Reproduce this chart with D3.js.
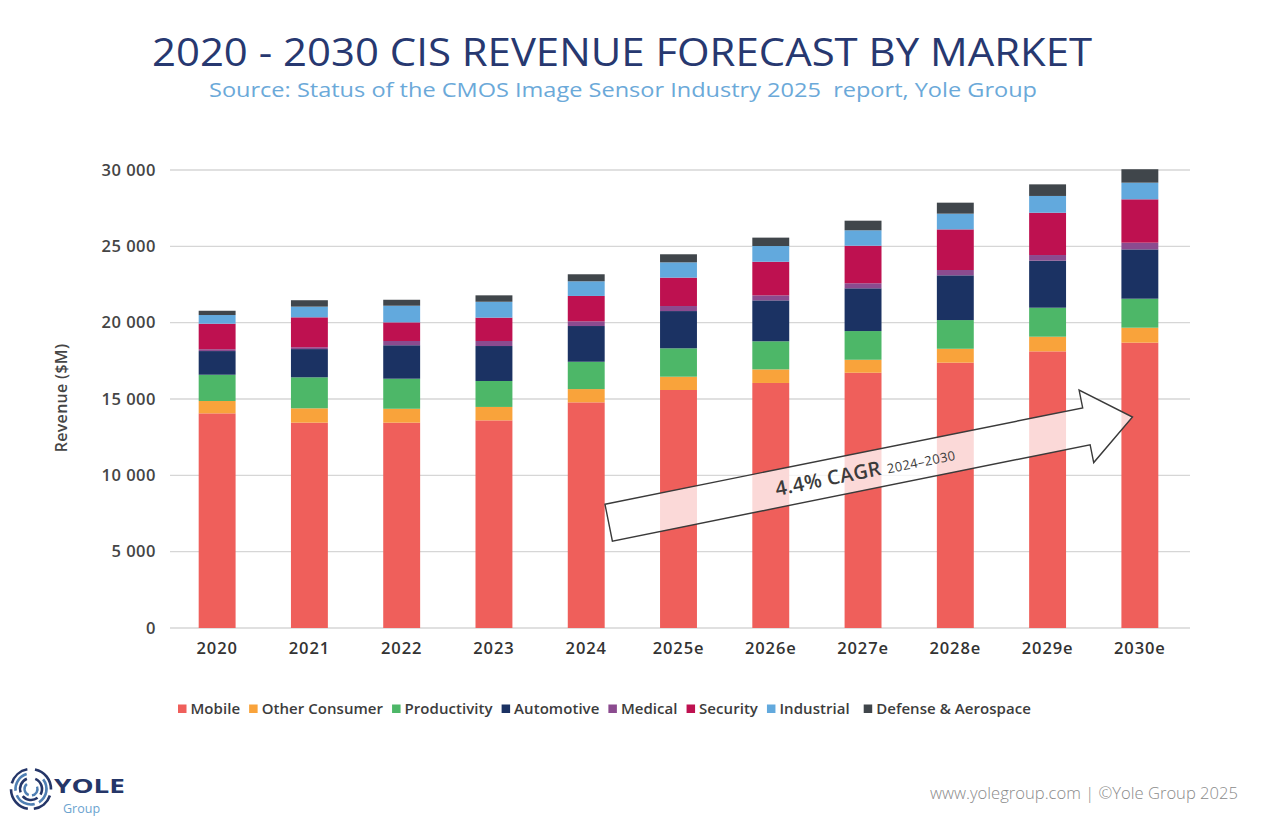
<!DOCTYPE html>
<html>
<head>
<meta charset="utf-8">
<script src="https://cdn.jsdelivr.net/npm/d3@7"></script>
<style>
  body { margin: 0; background: #fff; }
  svg { display: block; font-family: "Open Sans", sans-serif; }
</style>
</head>
<body>
<svg id="svg"></svg>
<script>
// values ($M)
const years = ["2020", "2021", "2022", "2023", "2024", "2025e", "2026e", "2027e", "2028e", "2029e", "2030e"];
const mobile        = [14060, 13450, 13450, 13600, 14780, 15590, 16050, 16720, 17380, 18120, 18690];
const otherConsumer = [810, 940, 910, 880, 870, 870, 890, 850, 910, 960, 980];
const productivity  = [1720, 2030, 1970, 1700, 1790, 1860, 1840, 1880, 1880, 1900, 1900];
const automotive    = [1550, 1850, 2190, 2290, 2340, 2440, 2680, 2800, 2930, 3080, 3230];
const medical       = [120, 120, 280, 330, 310, 330, 330, 330, 350, 370, 440];
const security      = [1670, 1960, 1220, 1530, 1660, 1860, 2200, 2460, 2660, 2770, 2840];
const industrial    = [570, 700, 1090, 1040, 960, 1000, 1030, 1010, 1030, 1100, 1090];
const defense       = [280, 420, 390, 420, 460, 530, 550, 630, 720, 760, 880];

const seriesNames = ["Mobile", "Other Consumer", "Productivity", "Automotive", "Medical", "Security", "Industrial", "Defense & Aerospace"];
const seriesValues = [mobile, otherConsumer, productivity, automotive, medical, security, industrial, defense];
const seriesColors = ["#ef5f5b", "#f9a33b", "#4db768", "#1b3263", "#8b4b8f", "#be1150", "#62a9dd", "#40464b"];
const yTicks = [0, 5000, 10000, 15000, 20000, 25000, 30000];

const title = "2020 - 2030 CIS REVENUE FORECAST BY MARKET";
const subtitle = "Source: Status of the CMOS Image Sensor Industry 2025  report, Yole Group";
const footer = "www.yolegroup.com | \u00A9Yole Group 2025";

const table = years.map((y, i) => {
  const row = { year: y };
  seriesNames.forEach((s, j) => row[s] = seriesValues[j][i]);
  return row;
});

const layout = { width: 1268, height: 834, top: 170, bottom: 628, left: 171, right: 1186, gridLeft: 170, gridRight: 1190 };

const svg = d3.select("#svg").attr("width", layout.width).attr("height", layout.height);

const x = d3.scaleBand().domain(years).range([layout.left, layout.right]).paddingInner(0.6).paddingOuter(0.3);
const y = d3.scaleLinear().domain([0, 30000]).range([layout.bottom, layout.top]);
const color = d3.scaleOrdinal().domain(seriesNames).range(seriesColors);

const fmt = d3.formatLocale({ decimal: ".", thousands: " ", grouping: [3], currency: ["", ""] }).format(",d");

// title
svg.append("text").attr("x", 622).attr("y", 66).attr("text-anchor", "middle")
  .attr("font-size", 39).attr("font-weight", 500).attr("fill", "#273870")
  .attr("textLength", 940).attr("lengthAdjust", "spacingAndGlyphs").text(title);
svg.append("text").attr("x", 623).attr("y", 97).attr("text-anchor", "middle")
  .attr("font-size", 20).attr("fill", "#6ba9d9").style("white-space", "pre")
  .attr("textLength", 828).attr("lengthAdjust", "spacingAndGlyphs").text(subtitle);

// grid
svg.append("g").selectAll("line").data(yTicks).join("line")
  .attr("x1", layout.gridLeft).attr("x2", layout.gridRight)
  .attr("y1", d => y(d)).attr("y2", d => y(d))
  .attr("stroke", "#d6d6d6").attr("stroke-width", 1.3);

// y axis
const yAxis = svg.append("g").attr("transform", "translate(156,0)")
  .call(d3.axisLeft(y).tickValues(yTicks).tickFormat(fmt).tickSize(0).tickPadding(0));
yAxis.select(".domain").remove();
yAxis.selectAll("text").attr("font-size", 16.5).attr("font-weight", 600).attr("fill", "#454545")
  .attr("font-family", "'Open Sans', sans-serif").attr("letter-spacing", 0.5);

svg.append("text").attr("transform", "translate(67,398) rotate(-90)").attr("text-anchor", "middle")
  .attr("font-size", 16).attr("font-weight", 600).attr("fill", "#454545").attr("letter-spacing", 0.3)
  .text("Revenue ($M)");

// bars
const stacked = d3.stack().keys(seriesNames)(table);
svg.append("g").selectAll("g").data(stacked).join("g")
  .attr("fill", d => color(d.key))
  .selectAll("rect").data(d => d).join("rect")
  .attr("x", d => x(d.data.year))
  .attr("width", x.bandwidth())
  .attr("y", d => y(d[1]))
  .attr("height", d => y(d[0]) - y(d[1]));

// x axis
const xAxis = svg.append("g").attr("transform", `translate(0,${layout.bottom + 12})`)
  .call(d3.axisBottom(x).tickSize(0).tickPadding(0));
xAxis.select(".domain").remove();
xAxis.selectAll("text").attr("font-size", 16.5).attr("font-weight", 600).attr("fill", "#333")
  .attr("font-family", "'Open Sans', sans-serif").attr("dy", "0.85em").attr("letter-spacing", 0.9);

// CAGR arrow, placed along the bars from 2024 to 2030e
const tail = [x("2024") + x.bandwidth() + 4, y(6900)];
const tip = [x("2030e") + x.bandwidth() * 0.3, y(13820)];
const ang = Math.atan2(tip[1] - tail[1], tip[0] - tail[0]) * 180 / Math.PI;
const len = Math.hypot(tip[0] - tail[0], tip[1] - tail[1]);
const shaftW = 18.8, headW = 37, headL = 47;
const arrowPts = [[0, -shaftW], [len - headL, -shaftW], [len - headL, -headW], [len, 0],
                  [len - headL, headW], [len - headL, shaftW], [0, shaftW]];
const arrow = svg.append("g").attr("transform", `translate(${tail[0]},${tail[1]}) rotate(${ang})`);
arrow.append("path").attr("d", d3.line()(arrowPts) + "Z")
  .attr("fill", "#fff").attr("fill-opacity", 0.76)
  .attr("stroke", "#3a3a3a").attr("stroke-width", 1.4).attr("stroke-linejoin", "miter");
const cagr = arrow.append("text").attr("x", 170).attr("y", 7)
  .attr("font-size", 20).attr("font-weight", 600).attr("fill", "#3b3b3b").attr("letter-spacing", 0.4);
cagr.append("tspan").text("4.4% CAGR");
cagr.append("tspan").attr("dx", 6).attr("font-size", 13).attr("font-weight", 500).text("2024\u20132030");

// legend
const legend = svg.append("g").attr("transform", "translate(0,709)");
let lx = 178;
seriesNames.forEach((s, i) => {
  legend.append("rect").attr("x", lx).attr("y", -4.5).attr("width", 8.5).attr("height", 8.5).attr("fill", color(s));
  const t = legend.append("text").attr("x", lx + 12.5).attr("y", 0).attr("dy", "0.35em")
    .attr("font-size", 15).attr("font-weight", 600).attr("fill", "#3c3c3c").attr("letter-spacing", 0.05).text(s);
  lx += 12.5 + t.node().getComputedTextLength() + (i === 6 ? 14 : 9);
});

// footer
svg.append("text").attr("x", 1238).attr("y", 799).attr("text-anchor", "end")
  .attr("font-size", 15.5).attr("font-weight", 300).attr("fill", "#8a8a8a")
  .attr("textLength", 308).attr("lengthAdjust", "spacingAndGlyphs").text(footer);

// logo
const logo = svg.append("g").attr("transform", "translate(31,789)");
const arcGen = d3.arc();
const rings = [
  { r: 20, w: 2.6, segs: [[0.2, 1.6], [1.9, 3.0], [3.3, 4.7], [5.0, 6.1]] },
  { r: 15.5, w: 2.6, segs: [[0.9, 2.6], [2.9, 4.3], [4.6, 6.0]] },
  { r: 11, w: 2.6, segs: [[0.4, 2.1], [2.5, 4.0], [4.4, 5.9]] },
  { r: 6.5, w: 2.4, segs: [[1.2, 3.0], [3.5, 5.6]] }
];
rings.forEach((ring, k) => ring.segs.forEach(sg => {
  logo.append("path").attr("d", arcGen({ innerRadius: ring.r - ring.w / 2, outerRadius: ring.r + ring.w / 2, startAngle: sg[0], endAngle: sg[1] }))
    .attr("fill", k % 2 === 0 ? "#253668" : "#4f7fb3");
}));
svg.append("text").attr("x", 54).attr("y", 793).attr("font-size", 20).attr("font-weight", 700)
  .attr("fill", "#253668").attr("textLength", 71).attr("lengthAdjust", "spacingAndGlyphs").text("YOLE");
svg.append("text").attr("x", 63).attr("y", 812.5).attr("font-size", 12.5).attr("font-weight", 500)
  .attr("fill", "#6ba3cf").text("Group");
</script>
</body>
</html>
